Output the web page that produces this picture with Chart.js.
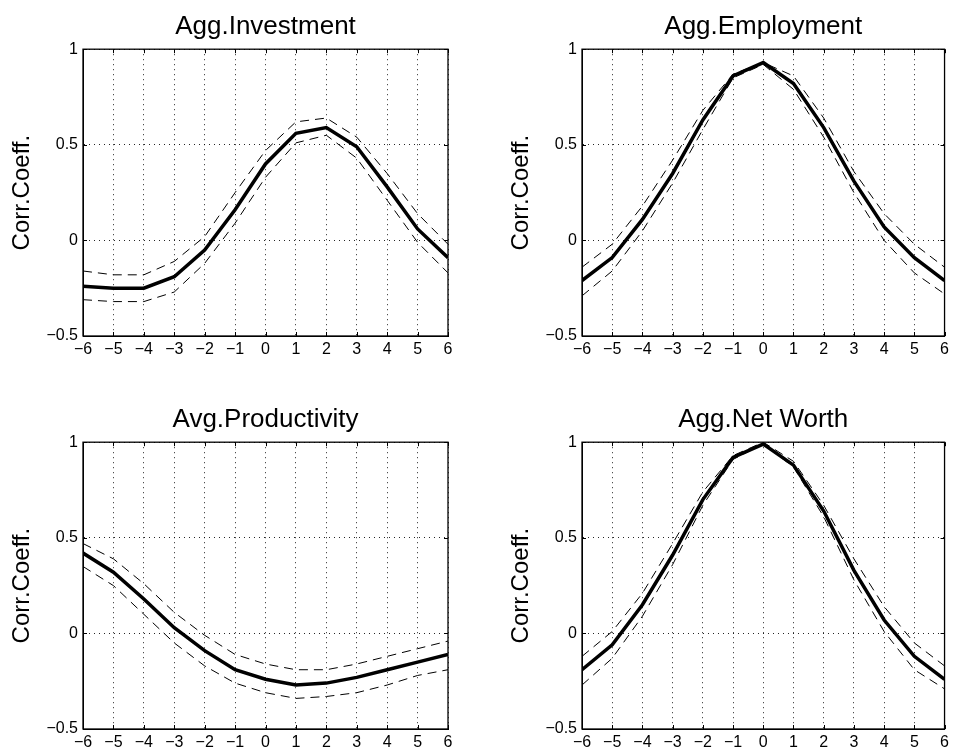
<!DOCTYPE html>
<html>
<head>
<meta charset="utf-8">
<script src="https://cdn.jsdelivr.net/npm/chart.js@4.4.1/dist/chart.umd.min.js"></script>
<style>
  body { margin: 0; background: #fff; }
  canvas { position: absolute; }
</style>
</head>
<body>
<canvas id="invChart" width="460" height="358" style="left:0;top:0"></canvas>
<canvas id="empChart" width="454" height="358" style="left:499px;top:0"></canvas>
<canvas id="prodChart" width="460" height="358" style="left:0;top:393px"></canvas>
<canvas id="nwChart" width="454" height="358" style="left:499px;top:393px"></canvas>
<script>
"use strict";

// leads / lags
const lags = [-6, -5, -4, -3, -2, -1, 0, 1, 2, 3, 4, 5, 6];
const yTicks = [-0.5, 0, 0.5, 1];

// Agg.Investment
const invMain  = [-0.24, -0.25, -0.25, -0.19, -0.05, 0.16, 0.40, 0.56, 0.59, 0.49, 0.28, 0.06, -0.09];
const invUpper = [-0.16, -0.18, -0.18, -0.11, 0.02, 0.25, 0.47, 0.62, 0.64, 0.54, 0.35, 0.14, -0.02];
const invLower = [-0.31, -0.32, -0.32, -0.27, -0.12, 0.09, 0.33, 0.51, 0.55, 0.43, 0.21, -0.01, -0.17];

// Agg.Employment
const empMain  = [-0.21, -0.09, 0.11, 0.35, 0.63, 0.86, 0.93, 0.82, 0.59, 0.31, 0.07, -0.09, -0.21];
const empUpper = [-0.14, -0.02, 0.18, 0.42, 0.68, 0.87, 0.93, 0.86, 0.64, 0.36, 0.14, -0.02, -0.14];
const empLower = [-0.29, -0.16, 0.05, 0.30, 0.58, 0.85, 0.92, 0.79, 0.54, 0.25, 0.00, -0.17, -0.28];

// Avg.Productivity
const prodMain  = [0.42, 0.32, 0.18, 0.03, -0.09, -0.19, -0.24, -0.27, -0.26, -0.23, -0.19, -0.15, -0.11];
const prodUpper = [0.47, 0.39, 0.26, 0.11, -0.01, -0.11, -0.16, -0.19, -0.19, -0.16, -0.12, -0.08, -0.04];
const prodLower = [0.35, 0.25, 0.10, -0.05, -0.17, -0.26, -0.31, -0.34, -0.33, -0.31, -0.27, -0.22, -0.19];

// Agg.Net Worth
const nwMain  = [-0.19, -0.06, 0.15, 0.41, 0.70, 0.92, 0.99, 0.88, 0.64, 0.33, 0.07, -0.12, -0.24];
const nwUpper = [-0.12, 0.01, 0.21, 0.47, 0.74, 0.93, 1.00, 0.90, 0.67, 0.39, 0.14, -0.05, -0.17];
const nwLower = [-0.27, -0.13, 0.09, 0.36, 0.67, 0.91, 0.99, 0.87, 0.61, 0.28, 0.01, -0.19, -0.29];

Chart.defaults.font.family = "'Liberation Sans', Arial, Helvetica, sans-serif";
Chart.defaults.color = '#000';

const minus = (v) => String(v).replace('-', '\u2212');

// box round the axes plus small inward tick marks, like matlab
const boxPlugin = {
  id: 'boxPlugin',
  afterDraw(chart) {
    const { ctx, chartArea: { left, right, top, bottom }, scales: { x, y } } = chart;
    ctx.save();
    ctx.strokeStyle = '#000';
    ctx.lineWidth = 1;
    ctx.beginPath();
    x.ticks.forEach(t => {
      const px = Math.round(x.getPixelForValue(t.value)) + 0.5;
      ctx.moveTo(px, bottom); ctx.lineTo(px, bottom - 4);
      ctx.moveTo(px, top); ctx.lineTo(px, top + 4);
    });
    y.ticks.forEach(t => {
      const py = Math.round(y.getPixelForValue(t.value)) + 0.5;
      ctx.moveTo(left, py); ctx.lineTo(left + 4, py);
      ctx.moveTo(right, py); ctx.lineTo(right - 4, py);
    });
    ctx.stroke();
    ctx.lineWidth = 1.3;
    ctx.strokeRect(left, top, right - left, bottom - top);
    ctx.restore();
  }
};

function toPoints(vals) {
  return lags.map((l, i) => ({ x: l, y: vals[i] }));
}

function makePanel(id, title, mainVals, upperVals, lowerVals, padRight) {
  const dashed = (vals) => ({
    data: toPoints(vals),
    borderColor: '#000',
    borderWidth: 1,
    borderDash: [9, 6],
    pointRadius: 0,
    tension: 0
  });
  return new Chart(document.getElementById(id), {
    type: 'line',
    data: {
      datasets: [
        dashed(upperVals),
        dashed(lowerVals),
        {
          data: toPoints(mainVals),
          borderColor: '#000',
          borderWidth: 3.5,
          pointRadius: 0,
          tension: 0
        }
      ]
    },
    options: {
      responsive: false,
      animation: false,
      layout: { padding: { left: 0, right: padRight, top: 0, bottom: 0 } },
      plugins: {
        legend: { display: false },
        tooltip: { enabled: false },
        title: {
          display: true,
          text: title,
          fullSize: false,
          color: '#000',
          font: { size: 26, weight: 'normal', lineHeight: 1.2 },
          padding: { top: 11, bottom: 7 }
        }
      },
      scales: {
        x: {
          type: 'linear',
          min: -6,
          max: 6,
          afterFit(scale) { scale.height = 22; },
          ticks: {
            stepSize: 1,
            autoSkip: false,
            maxRotation: 0,
            padding: 4,
            font: { size: 16 },
            callback: (v) => minus(v)
          },
          grid: { color: 'rgba(0,0,0,0.85)', borderDash: [1, 4], drawTicks: false },
          border: { color: '#000', width: 1, dash: [1, 4] }
        },
        y: {
          min: -0.5,
          max: 1,
          afterFit(scale) { scale.width = 83; },
          afterBuildTicks(scale) { scale.ticks = yTicks.map(v => ({ value: v })); },
          ticks: {
            padding: 5,
            font: { size: 16 },
            callback: (v) => minus(v)
          },
          grid: { color: 'rgba(0,0,0,0.85)', drawTicks: false },
          border: { color: '#000', width: 1, dash: [1, 4] },
          title: {
            display: true,
            text: 'Corr.Coeff.',
            color: '#000',
            font: { size: 24, lineHeight: 1.2 },
            padding: { top: 8, bottom: 0 }
          }
        }
      }
    },
    plugins: [boxPlugin]
  });
}

makePanel('invChart', 'Agg.Investment', invMain, invUpper, invLower, 12);
makePanel('empChart', 'Agg.Employment', empMain, empUpper, empLower, 6);
makePanel('prodChart', 'Avg.Productivity', prodMain, prodUpper, prodLower, 12);
makePanel('nwChart', 'Agg.Net Worth', nwMain, nwUpper, nwLower, 6);
</script>
</body>
</html>
